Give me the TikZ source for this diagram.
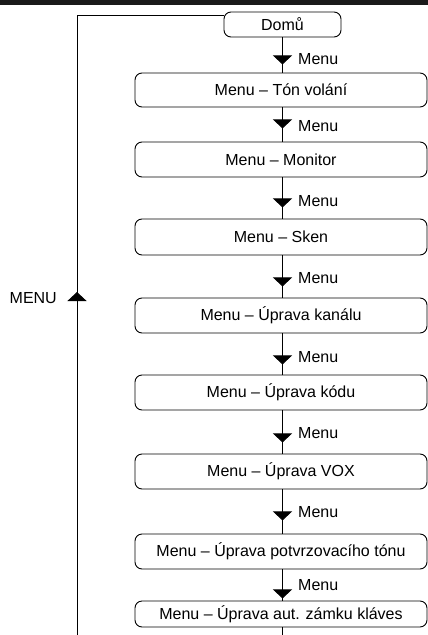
\documentclass[tikz,border=0pt]{standalone}
\usepackage{fontspec}
\setmainfont{Liberation Sans}
\usetikzlibrary{arrows.meta,decorations.markings}
\definecolor{barcol}{HTML}{1A1A1A}
\begin{document}
\begin{tikzpicture}[x=1pt,y=-1pt,
  every node/.style={font=\fontsize{16}{19}\selectfont, text=black},
  menubox/.style={draw=black, line width=0.9pt, rounded corners=7pt, minimum width=292pt, minimum height=35pt, inner sep=0pt},
  conn/.style={draw=black, line width=0.9pt},
  midarrow/.style={postaction={decorate,decoration={markings,mark=at position #1 with {\arrow{Triangle[width=19pt,length=9pt]}}}}},
  lbl/.style={anchor=west, inner sep=0pt}
]
\useasboundingbox (0,0) rectangle (428,635);
\fill[barcol] (0,0) rectangle (428,4.5);

\node[menubox, minimum width=117pt, minimum height=25pt] (dom) at (282.5,24.5) {Domů};
\node[menubox, minimum height=34pt] (b1) at (281,90) {Menu – Tón volání};
\node[menubox] (b2) at (281,159.5) {Menu – Monitor};
\node[menubox, minimum height=36pt] (b3) at (281,237) {Menu – Sken};
\node[menubox] (b4) at (281,315.5) {Menu – Úprava kanálu};
\node[menubox] (b5) at (281,392.5) {Menu – Úprava kódu};
\node[menubox] (b6) at (281,471.5) {Menu – Úprava VOX};
\node[menubox] (b7) at (281,551.5) {Menu – Úprava potvrzovacího tónu};
\node[menubox, minimum height=26pt] (b8) at (281,614) {Menu – Úprava aut. zámku kláves};

\draw[conn, midarrow=27pt] (dom.south) -- (b1.north -| dom.south);
\draw[conn, midarrow=21pt] (b1.south -| dom.south) -- (b2.north -| dom.south);
\draw[conn, midarrow=30pt] (b2.south -| dom.south) -- (b3.north -| dom.south);
\draw[conn, midarrow=31pt] (b3.south -| dom.south) -- (b4.north -| dom.south);
\draw[conn, midarrow=31pt] (b4.south -| dom.south) -- (b5.north -| dom.south);
\draw[conn, midarrow=32pt] (b5.south -| dom.south) -- (b6.north -| dom.south);
\draw[conn, midarrow=31pt] (b6.south -| dom.south) -- (b7.north -| dom.south);
\draw[conn, midarrow=29pt] (b7.south -| dom.south) -- (b8.north -| dom.south);
\coordinate (endc) at (282.5,635);
\draw[conn] (b8.south -| dom.south) -- (endc);

\node[lbl] (l1) at (298,59) {Menu};
\node[lbl] (l2) at (298,126) {Menu};
\node[lbl] (l3) at (298,201) {Menu};
\node[lbl] (l4) at (298,278) {Menu};
\node[lbl] (l5) at (298,357) {Menu};
\node[lbl] (l6) at (298,433) {Menu};
\node[lbl] (l7) at (298,512) {Menu};
\node[lbl] (l8) at (298,585) {Menu};

\coordinate (lb) at (77,635);
\coordinate (lt) at (77,15);
\draw[conn, midarrow=343pt] (lb) -- (lt) -- (lt -| dom.west);
\node[anchor=east, inner sep=0pt] (menu) at (57,298) {MENU};
\end{tikzpicture}
\end{document}
